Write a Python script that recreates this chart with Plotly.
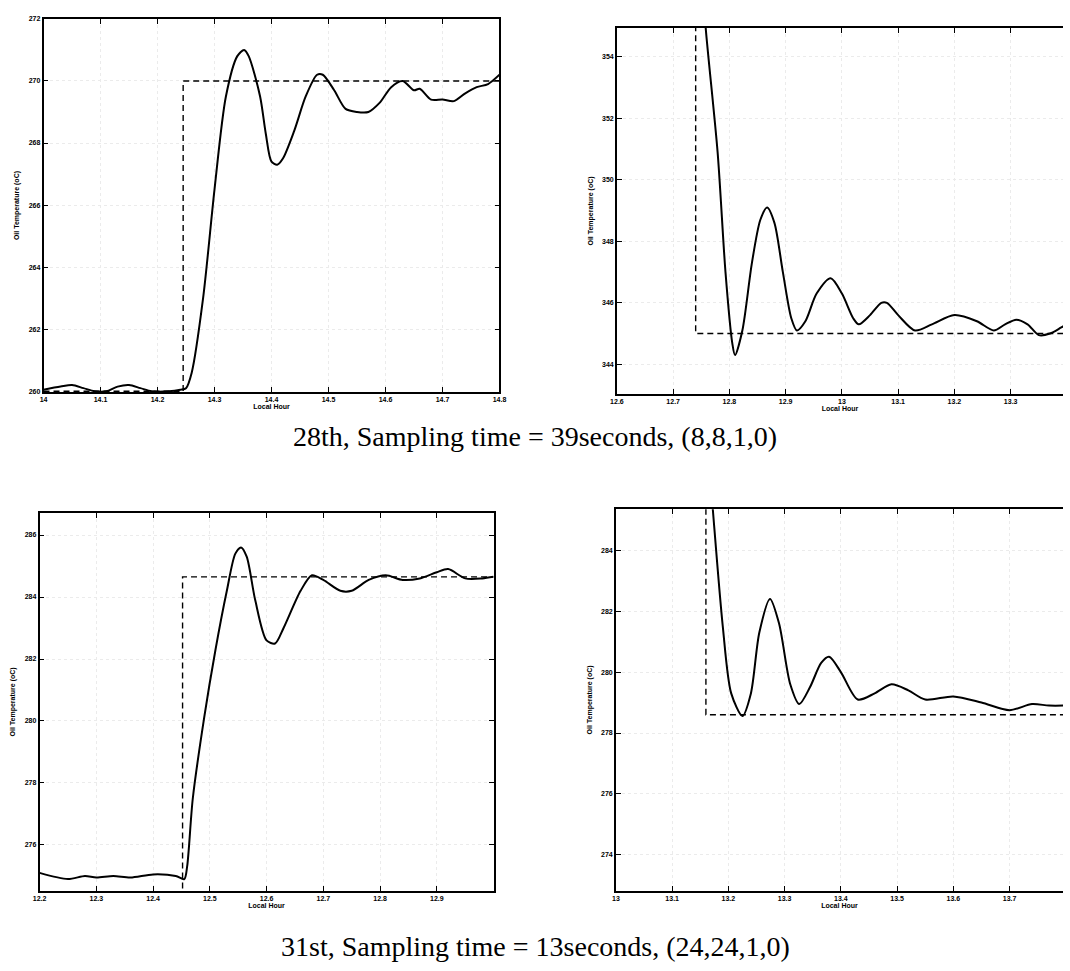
import plotly.graph_objects as go

# ---------------- data ----------------
# Panel A (top-left): 28th, step up
a_hour = [14.00, 14.03, 14.05, 14.07, 14.09, 14.11, 14.13, 14.15, 14.17, 14.19, 14.22, 14.24,
          14.25, 14.26, 14.28, 14.30, 14.32, 14.34, 14.352, 14.36, 14.38, 14.39, 14.40, 14.41,
          14.42, 14.44, 14.46, 14.48, 14.49, 14.51, 14.53, 14.55, 14.57, 14.59, 14.61, 14.63,
          14.65, 14.66, 14.68, 14.70, 14.72, 14.74, 14.76, 14.78, 14.80]
a_temp = [260.05, 260.15, 260.2, 260.1, 260.0, 260.0, 260.15, 260.2, 260.1, 260.0, 260.0, 260.05,
          260.1, 260.6, 263.0, 266.5, 269.5, 270.8, 271.0, 270.8, 269.5, 268.3, 267.4, 267.3,
          267.5, 268.4, 269.5, 270.2, 270.2, 269.7, 269.1, 269.0, 269.0, 269.3, 269.8, 270.0,
          269.7, 269.75, 269.4, 269.4, 269.35, 269.6, 269.8, 269.9, 270.2]
a_set_hour = [14.00, 14.245, 14.245, 14.80]
a_set_temp = [260.0, 260.0, 270.0, 270.0]

# Panel B (top-right): 28th, step down
b_hour = [12.752, 12.758, 12.779, 12.793, 12.805, 12.81, 12.823, 12.84, 12.855, 12.867, 12.88,
          12.895, 12.91, 12.92, 12.935, 12.955, 12.98, 13.00, 13.02, 13.03, 13.05, 13.07, 13.08,
          13.10, 13.13, 13.16, 13.20, 13.24, 13.27, 13.29, 13.31, 13.33, 13.35, 13.37, 13.39, 13.40]
b_temp = [356.5, 354.9, 350.9, 347.0, 344.7, 344.3, 345.1, 347.3, 348.7, 349.1, 348.6,
          347.0, 345.5, 345.1, 345.4, 346.3, 346.8, 346.3, 345.5, 345.3, 345.6, 346.0, 346.0,
          345.6, 345.1, 345.3, 345.6, 345.4, 345.1, 345.3, 345.45, 345.3, 344.95, 345.0, 345.2, 345.3]
b_set_hour = [12.74, 12.74, 13.40]
b_set_temp = [356.0, 345.0, 345.0]

# Panel C (bottom-left): 31st, step up
c_hour = [12.20, 12.25, 12.28, 12.30, 12.33, 12.36, 12.40, 12.44, 12.455, 12.46, 12.47, 12.49,
          12.51, 12.53, 12.545, 12.555, 12.565, 12.58, 12.60, 12.615, 12.63, 12.66, 12.68, 12.70,
          12.73, 12.75, 12.78, 12.81, 12.84, 12.87, 12.90, 12.92, 12.95, 12.98, 13.00]
c_temp = [275.1, 274.9, 275.0, 274.95, 275.0, 274.95, 275.05, 275.0, 274.9, 275.3, 277.5, 280.1,
          282.3, 284.2, 285.4, 285.6, 285.3, 283.9, 282.6, 282.5, 283.0, 284.2, 284.7, 284.55,
          284.2, 284.2, 284.55, 284.7, 284.55, 284.6, 284.8, 284.9, 284.6, 284.6, 284.65]
c_set_hour = [12.452, 12.452, 13.00]
c_set_temp = [274.6, 284.65, 284.65]

# Panel D (bottom-right): 31st, step down
d_hour = [13.165, 13.172, 13.19, 13.205, 13.225, 13.24, 13.255, 13.274, 13.29, 13.31, 13.326,
          13.345, 13.365, 13.379, 13.40, 13.43, 13.46, 13.49, 13.52, 13.55, 13.60, 13.65, 13.70,
          13.74, 13.77, 13.80]
d_temp = [287.0, 285.4, 281.5, 279.3, 278.56, 279.3, 281.3, 282.4, 281.6, 279.6, 278.95,
          279.5, 280.3, 280.5, 280.0, 279.1, 279.3, 279.6, 279.4, 279.1, 279.2, 279.0, 278.75,
          278.95, 278.9, 278.9]
d_set_hour = [13.16, 13.16, 13.80]
d_set_temp = [287.0, 278.6, 278.6]

a_xticks = [14.0, 14.1, 14.2, 14.3, 14.4, 14.5, 14.6, 14.7, 14.8]
a_xlabels = ["14", "14.1", "14.2", "14.3", "14.4", "14.5", "14.6", "14.7", "14.8"]
a_yticks = [260, 262, 264, 266, 268, 270, 272]

b_xticks = [12.6, 12.7, 12.8, 12.9, 13.0, 13.1, 13.2, 13.3, 13.4]
b_xlabels = ["12.6", "12.7", "12.8", "12.9", "13", "13.1", "13.2", "13.3", "13.4"]
b_yticks = [344, 346, 348, 350, 352, 354]

c_xticks = [12.2, 12.3, 12.4, 12.5, 12.6, 12.7, 12.8, 12.9]
c_xlabels = ["12.2", "12.3", "12.4", "12.5", "12.6", "12.7", "12.8", "12.9"]
c_yticks = [276, 278, 280, 282, 284, 286]

d_xticks = [13.0, 13.1, 13.2, 13.3, 13.4, 13.5, 13.6, 13.7, 13.8]
d_xlabels = ["13", "13.1", "13.2", "13.3", "13.4", "13.5", "13.6", "13.7", "13.8"]
d_yticks = [274, 276, 278, 280, 282, 284]

captions = ["28th, Sampling time = 39seconds, (8,8,1,0)",
            "31st, Sampling time = 13seconds, (24,24,1,0)"]

# ---------------- layout helpers ----------------
W, H = 1070, 971


def px_x(p):
    return p / W


def px_y(p):
    return 1 - p / H


panels = [
    (a_hour, a_temp, a_set_hour, a_set_temp, a_xticks, a_xlabels, a_yticks,
     [14.0, 14.8], [259.97, 272.0], (37, 499), (15, 391), False),
    (b_hour, b_temp, b_set_hour, b_set_temp, b_xticks, b_xlabels, b_yticks,
     [12.6, 13.393], [343.03, 354.94], (618, 1070), (24, 393), True),
    (c_hour, c_temp, c_set_hour, c_set_temp, c_xticks, c_xlabels, c_yticks,
     [12.2, 13.0], [274.53, 286.7], (33, 493), (513, 893), False),
    (d_hour, d_temp, d_set_hour, d_set_temp, d_xticks, d_xlabels, d_yticks,
     [13.0, 13.795], [272.83, 285.34], (617, 1070), (509, 893), True),
]

fig = go.Figure()
tickfont = dict(family="Liberation Sans", size=7, color="black", weight="bold")
titlefont = dict(family="Liberation Sans", size=7, color="black", weight="bold")

layout_axes = {}
for i, (hx, ty, sx, sy, xt, xl, yt, xr, yr, xd, yd, cut) in enumerate(panels, start=1):
    xa = "x" if i == 1 else f"x{i}"
    ya = "y" if i == 1 else f"y{i}"
    fig.add_trace(go.Scatter(x=sx, y=sy, mode="lines", xaxis=xa, yaxis=ya,
                             line=dict(color="black", width=1.4, dash="6px,4px"),
                             showlegend=False, hoverinfo="skip"))
    fig.add_trace(go.Scatter(x=hx, y=ty, mode="lines", xaxis=xa, yaxis=ya,
                             line=dict(color="black", width=2, shape="spline", smoothing=0.8),
                             showlegend=False))
    xkey = "xaxis" if i == 1 else f"xaxis{i}"
    ykey = "yaxis" if i == 1 else f"yaxis{i}"
    layout_axes[xkey] = dict(
        domain=[px_x(xd[0]), px_x(xd[1])], range=xr, anchor=ya,
        tickvals=xt, ticktext=xl, ticks="inside", ticklen=5, tickwidth=1.2, tickcolor="black",
        showline=True, linecolor="black", linewidth=1.6, mirror="ticks",
        showgrid=True, gridcolor="#ebebeb", griddash="dot", gridwidth=1,
        zeroline=False, tickfont=tickfont,
        title=dict(text="Local Hour", font=titlefont, standoff=2),
    )
    layout_axes[ykey] = dict(
        domain=[px_y(yd[1]), px_y(yd[0])], range=yr, anchor=xa,
        tickvals=yt, ticks="inside", ticklen=5, tickwidth=1.2, tickcolor="black",
        showline=True, linecolor="black", linewidth=1.6, mirror=(False if cut else "ticks"),
        showgrid=True, gridcolor="#ebebeb", griddash="dot", gridwidth=1,
        zeroline=False, tickfont=tickfont,
        title=dict(text="Oil Temperature (oC)", font=titlefont, standoff=8),
    )

fig.update_layout(
    width=W, height=H, margin=dict(l=0, r=0, t=0, b=0),
    paper_bgcolor="white", plot_bgcolor="white",
    **layout_axes,
)

fig.add_annotation(text=captions[0], xref="paper", yref="paper", x=px_x(535), y=px_y(436),
                   showarrow=False, xanchor="center", yanchor="middle",
                   font=dict(family="Liberation Serif", size=28, color="black"))
fig.add_annotation(text=captions[1], xref="paper", yref="paper", x=px_x(535), y=px_y(949),
                   showarrow=False, xanchor="center", yanchor="middle",
                   font=dict(family="Liberation Serif", size=28, color="black"))

fig.write_html("out.html")
